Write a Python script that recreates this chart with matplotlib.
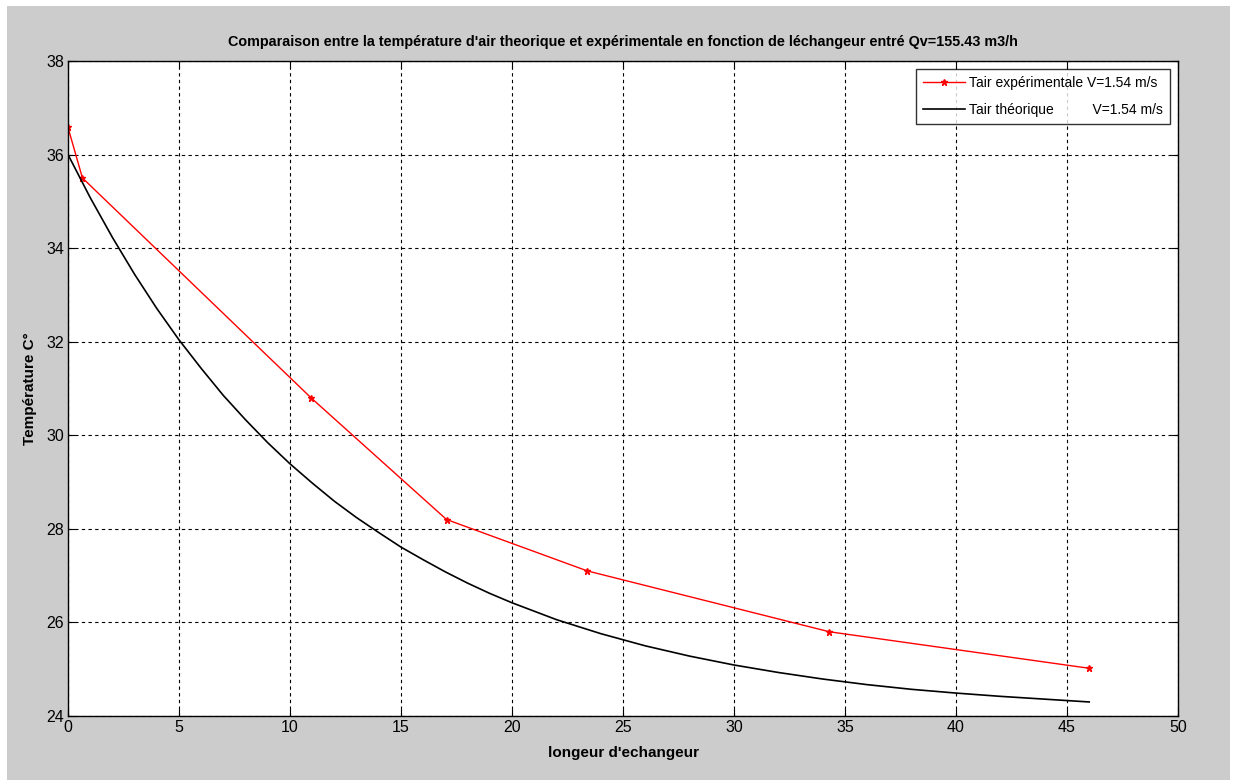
import numpy as np
import matplotlib
matplotlib.use("Agg")
import matplotlib.pyplot as plt
from matplotlib.patches import Rectangle

# %%
# experimental air temperature (red, with markers)
x_exp = [0.0, 0.65, 10.95, 17.05, 23.4, 34.3, 46.0]
t_exp = [36.58, 35.5, 30.8, 28.2, 27.1, 25.8, 25.02]

# theoretical air temperature (black curve)
x_theo = [0, 1, 2, 3, 4, 5, 6, 7, 8, 9, 10, 11, 12, 13, 14, 15, 16, 17, 18, 19, 20,
          22, 24, 26, 28, 30, 32, 34, 36, 38, 40, 42, 44, 46]
t_theo = [36.00, 35.08, 34.23, 33.44, 32.71, 32.04, 31.43, 30.85, 30.33, 29.84,
          29.39, 28.98, 28.59, 28.24, 27.92, 27.61, 27.34, 27.08, 26.84, 26.62,
          26.42, 26.06, 25.76, 25.50, 25.28, 25.09, 24.93, 24.79, 24.67, 24.57,
          24.49, 24.42, 24.36, 24.30]

x_ticks = [0, 5, 10, 15, 20, 25, 30, 35, 40, 45, 50]
y_ticks = [24, 26, 28, 30, 32, 34, 36, 38]

title = "Comparaison entre la température d'air theorique et expérimentale en fonction de léchangeur entré Qv=155.43 m3/h"
xlabel = "longeur d'echangeur"
ylabel = "Température C°"
label_exp = "Tair expérimentale V=1.54 m/s"
label_theo = "Tair théorique          V=1.54 m/s"

# %%
plt.rcParams["font.family"] = ["Liberation Sans", "DejaVu Sans"]

W, H = 1233, 780
fig = plt.figure(figsize=(W / 100, H / 100), dpi=100, facecolor="white")
# grey MATLAB figure background
fig.patches.append(Rectangle((7 / W, 0), (1230 - 7) / W, (H - 6) / H,
                             transform=fig.transFigure, facecolor="#cccccc",
                             edgecolor="none", zorder=-1))

left, right, top, bottom = 68, 1178, 61, 716
ax = fig.add_axes([left / W, 1 - bottom / H, (right - left) / W, (bottom - top) / H])
ax.set_facecolor("white")

ax.plot(x_exp, t_exp, color="red", lw=1.0, marker="*", ms=5, label=label_exp)
ax.plot(x_theo, t_theo, color="black", lw=1.2, label=label_theo)

ax.set_xlim(0, 50)
ax.set_ylim(24, 38)
ax.set_xticks(x_ticks)
ax.set_yticks(y_ticks)
ax.grid(True, color="black", linestyle=(0, (3, 3)), linewidth=0.8)
ax.tick_params(direction="in", top=True, right=True, labelsize=11.5, length=5,
               colors="black", pad=3)
for s in ax.spines.values():
    s.set_linewidth(1.0)

ax.set_title(title, fontsize=10.4, fontweight="bold", pad=11)
ax.set_xlabel(xlabel, fontsize=11, fontweight="bold", labelpad=8)
ax.set_ylabel(ylabel, fontsize=11, fontweight="bold")
ax.yaxis.set_label_coords(-0.028, 0.5)

leg = ax.legend(loc="upper right", fontsize=10, frameon=True, fancybox=False,
                edgecolor="black", borderpad=0.5, handlelength=3.0,
                handletextpad=0.3, borderaxespad=0.6, labelspacing=0.9)
leg.get_frame().set_linewidth(1.0)

fig.savefig("out.png", dpi=100, facecolor=fig.get_facecolor())
